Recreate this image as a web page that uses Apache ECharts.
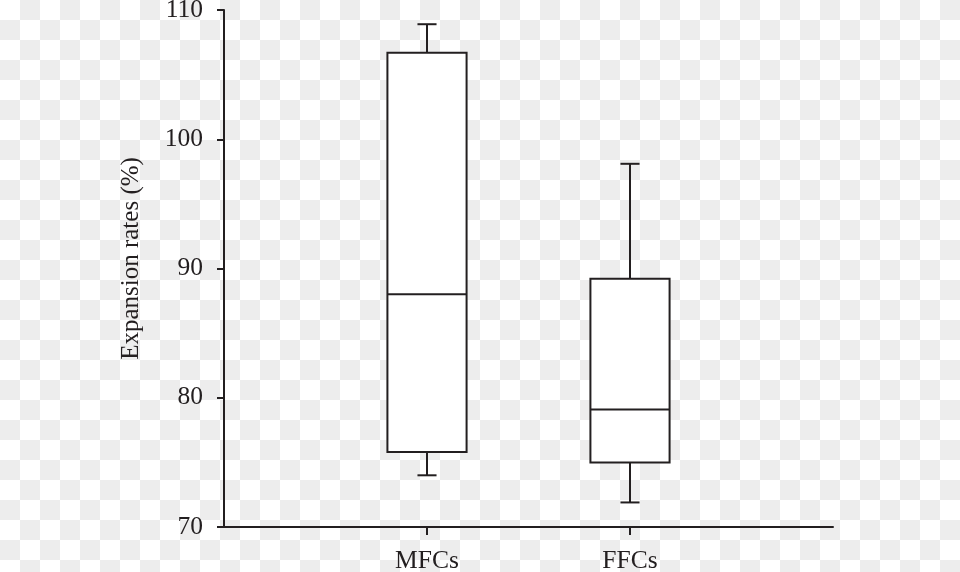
<!DOCTYPE html>
<html>
<head>
<meta charset="utf-8">
<script src="https://cdn.jsdelivr.net/npm/echarts@6/dist/echarts.min.js"></script>
<style>
  html, body { margin: 0; padding: 0; }
  body {
    width: 960px; height: 572px; overflow: hidden;
    background-color: #ffffff;
    background-image: repeating-conic-gradient(#ededed 0 25%, #ffffff 0 50%);
    background-size: 40px 40px;
    background-position: 0 0;
  }
  #chart { width: 960px; height: 572px; }
</style>
</head>
<body>
<div id="chart"></div>
<script>
// Category axis slots (empty slots pad the axis on both sides)
const axisCategories = ['', 'MFCs', 'FFCs', ''];
const groups = ['MFCs', 'FFCs'];
const whiskerLow = [74.0, 71.9];
const quartile1 = [75.8, 75.0];
const medians = [88.0, 79.1];
const quartile3 = [106.7, 89.2];
const whiskerHigh = [108.9, 98.1];
const yTicks = { min: 70, max: 110, interval: 10 };

const ink = '#231f20';
const fontFamily = '"Liberation Serif", "DejaVu Serif", serif';

const boxData = groups.map((g, i) => [
  axisCategories.indexOf(g), whiskerLow[i], quartile1[i], medians[i], quartile3[i], whiskerHigh[i]
]);

function renderBox(params, api) {
  const idx = api.value(0);
  const pMin = api.coord([idx, api.value(1)]);
  const pQ1 = api.coord([idx, api.value(2)]);
  const pMed = api.coord([idx, api.value(3)]);
  const pQ3 = api.coord([idx, api.value(4)]);
  const pMax = api.coord([idx, api.value(5)]);
  const band = api.size([1, 0])[0];
  const halfBox = band * 0.39 / 2;
  const halfCap = band * 0.094 / 2;
  const x = pMed[0];
  const line = { stroke: ink, lineWidth: 2, fill: null };
  return {
    type: 'group',
    children: [
      { type: 'line', shape: { x1: x, y1: pQ3[1], x2: x, y2: pMax[1] }, style: line },
      { type: 'line', shape: { x1: x - halfCap, y1: pMax[1], x2: x + halfCap, y2: pMax[1] }, style: line },
      { type: 'line', shape: { x1: x, y1: pQ1[1], x2: x, y2: pMin[1] }, style: line },
      { type: 'line', shape: { x1: x - halfCap, y1: pMin[1], x2: x + halfCap, y2: pMin[1] }, style: line },
      { type: 'rect', shape: { x: x - halfBox, y: pQ3[1], width: halfBox * 2, height: pQ1[1] - pQ3[1] },
        style: { fill: '#ffffff', stroke: ink, lineWidth: 2 } },
      { type: 'line', shape: { x1: x - halfBox, y1: pMed[1], x2: x + halfBox, y2: pMed[1] }, style: line }
    ]
  };
}

const chart = echarts.init(document.getElementById('chart'), null, { renderer: 'canvas' });
chart.setOption({
  backgroundColor: 'transparent',
  animation: false,
  grid: { left: 224, right: 127, top: 10, bottom: 45, containLabel: false, outerBoundsMode: 'none' },
  xAxis: {
    type: 'category',
    data: axisCategories,
    boundaryGap: false,
    axisLine: { lineStyle: { color: ink, width: 2 } },
    axisTick: { show: true, length: 8, lineStyle: { color: ink, width: 2 },
      interval: (i) => axisCategories[i] !== '' },
    axisLabel: { interval: 0, color: ink, fontFamily, fontSize: 25.5, margin: 21 },
    splitLine: { show: false }
  },
  yAxis: {
    type: 'value',
    min: yTicks.min, max: yTicks.max, interval: yTicks.interval,
    name: 'Expansion rates (%)',
    nameLocation: 'middle',
    nameGap: 80,
    nameTextStyle: { color: ink, fontFamily, fontSize: 25, padding: [0, 0, 0, 20] },
    axisLine: { show: true, lineStyle: { color: ink, width: 2 } },
    axisTick: { show: true, length: 7, lineStyle: { color: ink, width: 2 } },
    axisLabel: { color: ink, fontFamily, fontSize: 25.5, margin: 21 },
    splitLine: { show: false }
  },
  series: [{
    type: 'custom',
    renderItem: renderBox,
    encode: { x: 0, y: [1, 2, 3, 4, 5] },
    data: boxData
  }]
});
</script>
</body>
</html>
